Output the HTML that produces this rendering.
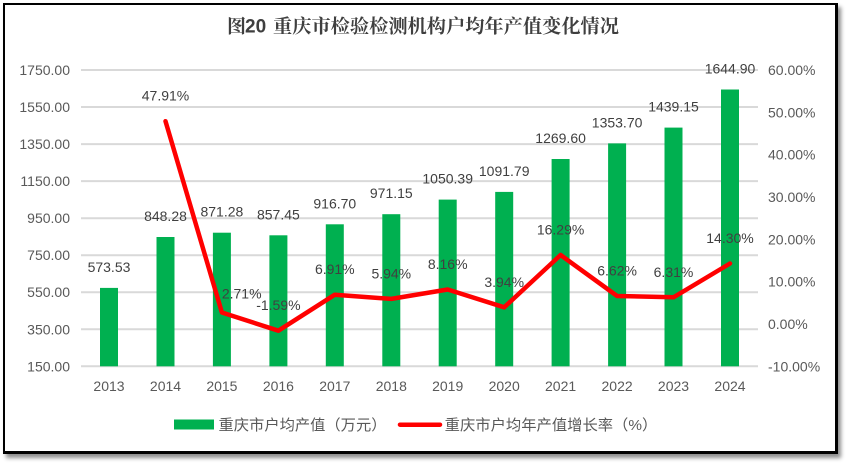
<!DOCTYPE html>
<html>
<head>
<meta charset="utf-8">
<style>
  html,body{margin:0;padding:0;background:#fff;}
  body{width:847px;height:464px;position:relative;overflow:hidden;}
  .frame{position:absolute;left:3px;top:3px;width:830px;height:446px;border:2px solid #000;border-right-width:3px;border-bottom-width:3px;box-shadow:3px 4px 4px rgba(0,0,0,0.45);background:#fff;}
  svg{position:absolute;left:0;top:0;}
  .ax{font-family:"Liberation Sans",sans-serif;font-size:14px;fill:#595959;}
  .dl{font-family:"Liberation Sans",sans-serif;font-size:14px;fill:#404040;}
  .lg{font-family:"Liberation Sans","Noto Sans CJK SC",sans-serif;font-size:15px;fill:#595959;}
</style>
</head>
<body>
<div class="frame"></div>
<svg width="847" height="464" viewBox="0 0 847 464" xmlns="http://www.w3.org/2000/svg">
  <!-- title -->
  <text x="227" y="32.5" font-family="'Noto Serif CJK SC',serif" font-weight="bold" font-size="19" fill="#3f3f3f">图</text>
  <text x="245" y="32.5" font-family="'Liberation Sans',sans-serif" font-weight="bold" font-size="19" fill="#3f3f3f">20</text>
  <text x="273" y="32.5" font-family="'Liberation Serif','Noto Serif CJK SC',serif" font-weight="bold" font-size="19" fill="#3f3f3f" textLength="346" lengthAdjust="spacingAndGlyphs">重庆市检验检测机构户均年产值变化情况</text>

  <!-- gridlines -->
  <g stroke="#d9d9d9" stroke-width="2">
    <line x1="81" y1="70" x2="758" y2="70"/>
    <line x1="81" y1="107" x2="758" y2="107"/>
    <line x1="81" y1="144.1" x2="758" y2="144.1"/>
    <line x1="81" y1="181.1" x2="758" y2="181.1"/>
    <line x1="81" y1="218.2" x2="758" y2="218.2"/>
    <line x1="81" y1="255.2" x2="758" y2="255.2"/>
    <line x1="81" y1="292.2" x2="758" y2="292.2"/>
    <line x1="81" y1="329.3" x2="758" y2="329.3"/>
    <line x1="81" y1="366.3" x2="758" y2="366.3"/>
  </g>

  <!-- left axis labels -->
  <g class="ax" text-anchor="end">
    <text x="70" y="75">1750.00</text>
    <text x="70" y="112">1550.00</text>
    <text x="70" y="149.1">1350.00</text>
    <text x="70" y="186.1">1150.00</text>
    <text x="70" y="223.2">950.00</text>
    <text x="70" y="260.2">750.00</text>
    <text x="70" y="297.2">550.00</text>
    <text x="70" y="334.3">350.00</text>
    <text x="70" y="371.3">150.00</text>
  </g>

  <!-- right axis labels -->
  <g class="ax">
    <text x="768" y="75">60.00%</text>
    <text x="768" y="117.3">50.00%</text>
    <text x="768" y="159.7">40.00%</text>
    <text x="768" y="202">30.00%</text>
    <text x="768" y="244.3">20.00%</text>
    <text x="768" y="286.7">10.00%</text>
    <text x="768" y="329">0.00%</text>
    <text x="768" y="371.3">-10.00%</text>
  </g>

  <!-- bars -->
  <g fill="#00b050">
    <rect x="100" y="287.9" width="18" height="78.4"/>
    <rect x="156.5" y="237" width="18" height="129.3"/>
    <rect x="212.9" y="232.7" width="18" height="133.6"/>
    <rect x="269.4" y="235.3" width="18" height="131"/>
    <rect x="325.8" y="224.3" width="18" height="142"/>
    <rect x="382.3" y="214.2" width="18" height="152.1"/>
    <rect x="438.7" y="199.6" width="18" height="166.7"/>
    <rect x="495.2" y="191.9" width="18" height="174.4"/>
    <rect x="551.6" y="159" width="18" height="207.3"/>
    <rect x="608.1" y="143.4" width="18" height="222.9"/>
    <rect x="664.5" y="127.6" width="18" height="238.7"/>
    <rect x="721" y="89.5" width="18" height="276.8"/>
  </g>

  <!-- bar labels -->
  <g class="dl" text-anchor="middle">
    <text x="109" y="271.9">573.53</text>
    <text x="165.5" y="221">848.28</text>
    <text x="221.9" y="216.7">871.28</text>
    <text x="278.4" y="219.3">857.45</text>
    <text x="334.8" y="208.3">916.70</text>
    <text x="391.3" y="198.2">971.15</text>
    <text x="447.7" y="183.6">1050.39</text>
    <text x="504.2" y="175.9">1091.79</text>
    <text x="560.6" y="143">1269.60</text>
    <text x="617.1" y="127.4">1353.70</text>
    <text x="673.5" y="111.6">1439.15</text>
    <text x="730" y="73.5">1644.90</text>
  </g>

  <!-- line -->
  <polyline fill="none" stroke="#ff0000" stroke-width="4.5" stroke-linejoin="round" stroke-linecap="round"
    points="165.5,121.2 221.9,312.5 278.4,330.7 334.8,294.7 391.3,298.9 447.7,289.5 504.2,307.3 560.6,255 617.1,296 673.5,297.3 730,263.5"/>

  <!-- line labels -->
  <g class="dl" text-anchor="middle">
    <text x="165.5" y="100.7">47.91%</text>
    <text x="241.7" y="298.3">2.71%</text>
    <text x="278.4" y="310.2">-1.59%</text>
    <text x="334.8" y="274.2">6.91%</text>
    <text x="391.3" y="278.4">5.94%</text>
    <text x="447.7" y="269">8.16%</text>
    <text x="504.2" y="286.8">3.94%</text>
    <text x="560.6" y="234.5">16.29%</text>
    <text x="617.1" y="275.5">6.62%</text>
    <text x="673.5" y="276.8">6.31%</text>
    <text x="730" y="243">14.30%</text>
  </g>

  <!-- x axis labels -->
  <g class="ax" text-anchor="middle">
    <text x="109" y="391">2013</text>
    <text x="165.5" y="391">2014</text>
    <text x="221.9" y="391">2015</text>
    <text x="278.4" y="391">2016</text>
    <text x="334.8" y="391">2017</text>
    <text x="391.3" y="391">2018</text>
    <text x="447.7" y="391">2019</text>
    <text x="504.2" y="391">2020</text>
    <text x="560.6" y="391">2021</text>
    <text x="617.1" y="391">2022</text>
    <text x="673.5" y="391">2023</text>
    <text x="730" y="391">2024</text>
  </g>

  <!-- legend -->
  <rect x="174" y="419.5" width="40" height="10" fill="#00b050"/>
  <text class="lg" x="218.5" y="430" textLength="168" lengthAdjust="spacingAndGlyphs">重庆市户均产值（万元）</text>
  <line x1="400" y1="424.7" x2="440" y2="424.7" stroke="#ff0000" stroke-width="4.5" stroke-linecap="round"/>
  <text class="lg" x="444.7" y="430" textLength="212.6" lengthAdjust="spacingAndGlyphs">重庆市户均年产值增长率（%）</text>
</svg>
</body>
</html>
